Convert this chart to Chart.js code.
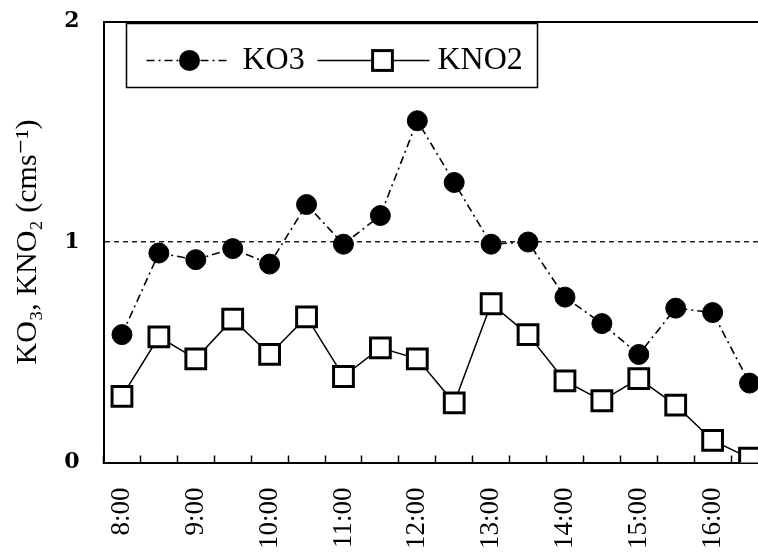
<!DOCTYPE html>
<html>
<head>
<meta charset="utf-8">
<script src="https://cdn.jsdelivr.net/npm/chart.js@4.4.0/dist/chart.umd.min.js"></script>
<style>
  html, body { margin: 0; padding: 0; background: #fff; overflow: hidden; }
  #wrap { width: 768px; height: 558px; }
</style>
</head>
<body>
<div id="wrap"><canvas id="chart" width="768" height="558"></canvas></div>
<script>
const times = ['8:00', '8:30', '9:00', '9:30', '10:00', '10:30', '11:00', '11:30', '12:00',
  '12:30', '13:00', '13:30', '14:00', '14:30', '15:00', '15:30', '16:00', '16:30'];
const ko3 = [0.58, 0.95, 0.92, 0.97, 0.90, 1.17, 0.99, 1.12, 1.55,
  1.27, 0.99, 1.00, 0.75, 0.63, 0.49, 0.70, 0.68, 0.36];
const kno2 = [0.30, 0.57, 0.47, 0.65, 0.49, 0.66, 0.39, 0.52, 0.47,
  0.27, 0.72, 0.58, 0.37, 0.28, 0.38, 0.26, 0.10, 0.02];
const yTicks = [0, 1, 2];

const serif = "'Liberation Serif', 'DejaVu Serif', serif";

// legend drawn as a box inside the plot, like the original figure
const boxLegend = {
  id: 'boxLegend',
  afterDatasetsDraw(chart) {
    const { ctx, chartArea } = chart;
    const left = chartArea.left + 23, top = chartArea.top + 2, w = 411, h = 64;
    const cy = top + h / 2 + 5;
    const ds = chart.data.datasets;
    ctx.save();
    ctx.fillStyle = '#fff';
    ctx.fillRect(left, top, w, h);
    ctx.strokeStyle = '#000';
    ctx.lineWidth = 1.5;
    ctx.strokeRect(left, top, w, h);

    // KO3
    ctx.setLineDash(ds[0].borderDash);
    ctx.lineWidth = ds[0].borderWidth;
    ctx.beginPath();
    ctx.moveTo(left + 20, cy);
    ctx.lineTo(left + 104, cy);
    ctx.stroke();
    ctx.setLineDash([]);
    ctx.beginPath();
    ctx.arc(left + 63, cy, ds[0].pointRadius + 0.5, 0, Math.PI * 2);
    ctx.fillStyle = '#000';
    ctx.fill();

    // KNO2
    ctx.lineWidth = ds[1].borderWidth;
    ctx.beginPath();
    ctx.moveTo(left + 191, cy);
    ctx.lineTo(left + 303, cy);
    ctx.stroke();
    const s = ds[1].pointRadius * Math.SQRT1_2;
    ctx.fillStyle = '#fff';
    ctx.fillRect(left + 256 - s, cy - s, 2 * s, 2 * s);
    ctx.lineWidth = ds[1].pointBorderWidth;
    ctx.strokeRect(left + 256 - s, cy - s, 2 * s, 2 * s);

    ctx.fillStyle = '#000';
    ctx.font = '32px ' + serif;
    ctx.textBaseline = 'middle';
    ctx.fillText(ds[0].label, left + 116, cy);
    ctx.fillText(ds[1].label, left + 311, cy);
    ctx.restore();
  }
};

new Chart(document.getElementById('chart'), {
  type: 'line',
  data: {
    labels: times,
    datasets: [
      {
        label: 'KO3',
        data: ko3,
        borderColor: '#000',
        borderWidth: 1.6,
        borderDash: [8, 4, 2, 4],
        pointStyle: 'circle',
        pointRadius: 10,
        pointBorderWidth: 1,
        pointBackgroundColor: '#000',
        pointBorderColor: '#000',
        tension: 0
      },
      {
        label: 'KNO2',
        data: kno2,
        borderColor: '#000',
        borderWidth: 1.5,
        pointStyle: 'rect',
        pointRadius: 14,
        pointBorderWidth: 3,
        pointBackgroundColor: '#fff',
        pointBorderColor: '#000',
        tension: 0
      }
    ]
  },
  options: {
    responsive: false,
    devicePixelRatio: 1,
    animation: false,
    layout: { autoPadding: false, padding: { top: 21.5, right: 0, bottom: 0, left: 0 } },
    plugins: {
      legend: { display: false },
      tooltip: { enabled: false }
    },
    scales: {
      x: {
        type: 'category',
        offset: true,
        grid: {
          offset: true,
          drawOnChartArea: false,
          drawTicks: true,
          tickLength: -7,
          tickWidth: 1.5,
          tickColor: '#000'
        },
        border: { color: '#000', width: 2 },
        ticks: {
          autoSkip: false,
          maxRotation: 90,
          minRotation: 90,
          padding: 32,
          color: '#000',
          font: { family: serif, size: 27 },
          callback: (value, index) => times[index].endsWith(':00') ? times[index] : ''
        },
        afterFit: scale => {
          scale.height = 95.5;
          scale.paddingLeft = 0;
          scale.paddingRight = 0;
        }
      },
      x2: {
        type: 'category',
        position: 'top',
        grid: { display: false, drawTicks: false },
        ticks: { display: false },
        border: { display: true, color: '#000', width: 2 },
        afterFit: scale => {
          scale.height = 0;
          scale.paddingLeft = 0;
          scale.paddingRight = 0;
        }
      },
      y: {
        min: 0,
        max: 2,
        afterBuildTicks: scale => { scale.ticks = yTicks.map(v => ({ value: v })); },
        grid: {
          drawTicks: false,
          lineWidth: 1.5,
          color: c => c.tick && c.tick.value === 1 ? '#222' : 'rgba(0,0,0,0)'
        },
        border: { color: '#000', width: 2, dash: [5, 4] },
        ticks: {
          padding: 24,
          color: '#000',
          font: { family: "'DejaVu Serif', serif", size: 22, weight: 'bold' }
        },
        title: {
          display: true,
          text: 'KO₃, KNO₂ (cms⁻¹)',
          color: '#000',
          font: { family: serif, size: 30 },
          padding: { top: 10, bottom: 0 }
        },
        afterFit: scale => {
          scale.width = 103.5;
          scale.paddingTop = 0;
          scale.paddingBottom = 0;
        }
      }
    }
  },
  plugins: [boxLegend]
});
</script>
</body>
</html>
